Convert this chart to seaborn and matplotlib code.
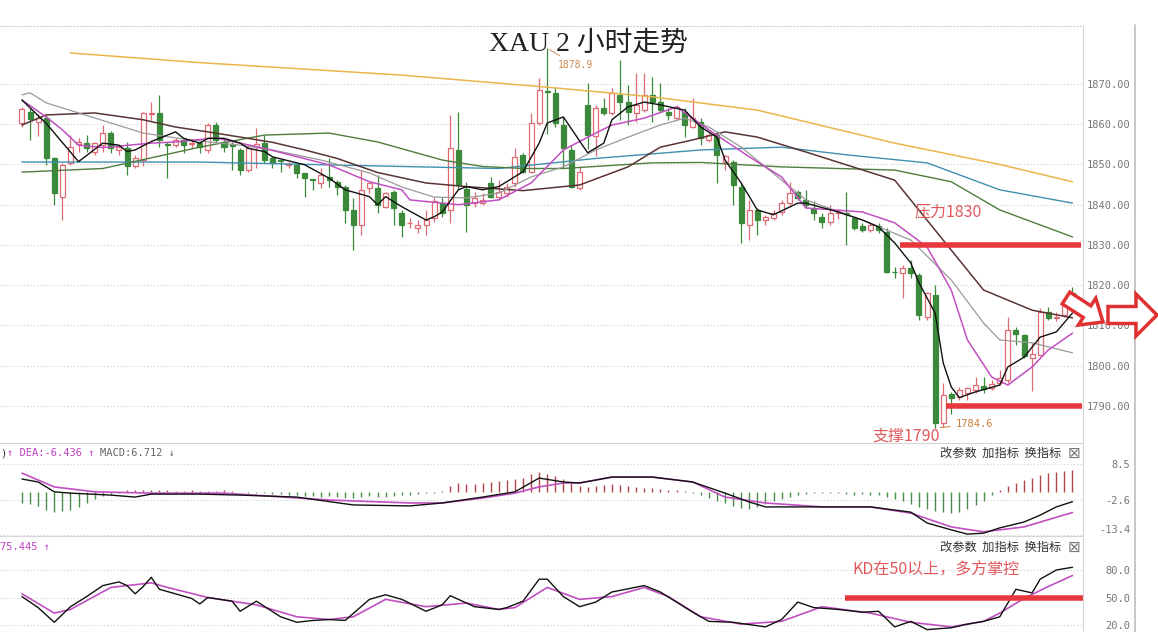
import numpy as np
import matplotlib
matplotlib.use("Agg")
import matplotlib.pyplot as plt
import seaborn as sns
from matplotlib.patches import FancyArrow
from matplotlib.lines import Line2D
from matplotlib.transforms import IdentityTransform

sns.set_style("white")
plt.rcParams["font.family"] = ["Noto Sans CJK SC", "DejaVu Sans"]

# ---------------- candles (2h bars, index 0..130) ----------------
opens = [1860.4, 1863.1, 1860.5, 1861.5, 1851.5, 1842.0, 1850.3, 1855.0, 1855.4, 1853.2,
         1854.9, 1857.7, 1853.6, 1854.0, 1849.5, 1851.1, 1862.5, 1862.7, 1855.0, 1854.9,
         1856.1, 1855.0, 1855.3, 1853.6, 1859.8, 1855.7, 1855.0, 1853.6, 1848.6, 1854.4,
         1855.3, 1851.5, 1851.0, 1849.9, 1849.9, 1847.8, 1846.3, 1845.3, 1847.0, 1845.7,
         1844.5, 1838.7, 1835.0, 1844.1, 1844.1, 1839.5, 1843.2, 1837.9, 1835.4, 1834.1,
         1835.0, 1836.6, 1840.4, 1838.7, 1853.6, 1844.0, 1840.4, 1840.4, 1845.3, 1842.0,
         1843.0, 1845.3, 1852.3, 1848.2, 1860.2, 1868.3, 1867.7, 1859.8, 1853.6, 1844.1,
         1864.8, 1857.0, 1864.0, 1862.7, 1867.3, 1865.6, 1862.7, 1863.5, 1867.3, 1865.6,
         1863.1, 1861.5, 1863.1, 1859.4, 1860.6, 1856.1, 1857.3, 1850.7, 1850.7, 1844.5,
         1835.0, 1838.7, 1836.2, 1836.6, 1838.3, 1840.4, 1843.2, 1841.2, 1838.9, 1837.0,
         1835.8, 1837.9, 1838.0, 1836.6, 1834.7, 1833.7, 1834.7, 1833.3, 1823.4, 1823.0,
         1824.2, 1822.5, 1812.2, 1817.6, 1785.7, 1793.0, 1792.3, 1793.2, 1794.0, 1795.0,
         1794.4, 1795.6, 1796.5, 1808.9, 1807.6, 1801.8, 1802.7, 1813.4, 1811.8, 1812.6,
         1818.0]
highs = [1864.4, 1864.0, 1862.5, 1862.3, 1851.9, 1850.3, 1857.3, 1856.5, 1857.3, 1855.7,
         1859.8, 1858.2, 1854.8, 1855.7, 1852.4, 1863.1, 1865.4, 1867.3, 1855.5, 1856.5,
         1856.5, 1856.0, 1855.7, 1860.2, 1860.6, 1856.5, 1855.7, 1854.0, 1854.8, 1859.0,
         1857.3, 1852.0, 1851.2, 1850.5, 1850.3, 1848.0, 1846.5, 1849.0, 1851.5, 1846.1,
         1844.9, 1841.6, 1848.6, 1845.7, 1847.4, 1843.2, 1843.7, 1838.7, 1836.6, 1836.2,
         1838.7, 1842.0, 1842.0, 1862.3, 1863.1, 1845.7, 1843.2, 1842.8, 1847.0, 1846.1,
         1845.3, 1854.0, 1852.8, 1862.7, 1871.5, 1878.9, 1869.3, 1861.9, 1854.8, 1849.5,
         1870.2, 1864.8, 1866.5, 1868.9, 1876.0, 1869.8, 1872.7, 1872.7, 1871.8, 1870.2,
         1864.0, 1864.8, 1864.0, 1866.5, 1861.5, 1857.7, 1858.2, 1852.3, 1851.1, 1845.3,
         1841.2, 1839.1, 1837.5, 1838.7, 1841.2, 1845.7, 1843.7, 1843.7, 1840.8, 1837.9,
         1840.0, 1839.0, 1843.2, 1837.0, 1835.4, 1835.4, 1835.4, 1834.1, 1824.6, 1825.0,
         1826.3, 1823.0, 1818.4, 1820.1, 1795.6, 1793.5, 1794.8, 1794.8, 1797.3, 1797.3,
         1796.5, 1798.9, 1812.2, 1809.7, 1808.0, 1805.6, 1814.3, 1814.7, 1813.4, 1815.5,
         1819.6]
lows = [1859.4, 1856.1, 1857.0, 1849.9, 1839.9, 1836.2, 1849.9, 1853.2, 1853.2, 1852.4,
        1853.2, 1852.8, 1852.4, 1847.4, 1849.0, 1849.5, 1861.0, 1854.4, 1846.6, 1854.4,
        1852.8, 1854.0, 1852.8, 1852.8, 1855.7, 1853.2, 1848.6, 1847.4, 1848.2, 1849.0,
        1850.3, 1849.0, 1848.2, 1849.0, 1846.6, 1842.0, 1843.7, 1844.1, 1844.5, 1842.4,
        1835.4, 1828.8, 1832.5, 1842.8, 1837.9, 1839.1, 1835.0, 1832.1, 1834.1, 1832.9,
        1832.5, 1835.8, 1837.0, 1835.4, 1843.7, 1833.3, 1839.5, 1840.0, 1841.6, 1841.2,
        1842.0, 1844.5, 1847.8, 1847.8, 1859.8, 1857.5, 1859.4, 1849.0, 1844.1, 1843.7,
        1853.8, 1852.0, 1862.3, 1862.3, 1861.0, 1859.8, 1860.6, 1863.1, 1860.6, 1863.1,
        1861.0, 1861.0, 1856.9, 1859.0, 1854.8, 1855.7, 1845.3, 1848.6, 1839.9, 1830.4,
        1831.2, 1832.5, 1835.0, 1836.2, 1837.5, 1840.0, 1841.2, 1839.1, 1836.2, 1834.1,
        1835.0, 1836.5, 1830.0, 1833.7, 1833.3, 1833.3, 1832.9, 1823.0, 1821.7, 1816.8,
        1821.7, 1811.4, 1811.4, 1784.6, 1784.8, 1788.0, 1791.5, 1791.5, 1793.2, 1793.2,
        1794.0, 1795.2, 1795.6, 1805.2, 1801.8, 1793.6, 1802.3, 1811.4, 1811.0, 1812.2,
        1814.7]
closes = [1863.7, 1861.2, 1861.5, 1851.5, 1842.8, 1849.9, 1854.4, 1855.7, 1854.0, 1855.3,
          1857.7, 1854.0, 1854.4, 1849.5, 1851.5, 1862.7, 1862.8, 1856.1, 1854.8, 1856.1,
          1854.9, 1855.3, 1854.4, 1859.8, 1856.1, 1854.4, 1854.5, 1848.6, 1854.0, 1855.2,
          1851.1, 1850.3, 1850.8, 1850.0, 1847.8, 1846.6, 1846.1, 1847.4, 1846.1, 1844.5,
          1838.7, 1835.0, 1843.7, 1845.3, 1839.9, 1842.8, 1839.1, 1835.0, 1835.5, 1835.0,
          1836.2, 1840.8, 1837.9, 1854.0, 1844.9, 1840.0, 1841.6, 1841.2, 1842.0, 1843.2,
          1844.5, 1851.9, 1848.2, 1860.2, 1868.5, 1868.0, 1860.2, 1854.0, 1844.5, 1848.2,
          1857.2, 1864.0, 1862.7, 1867.7, 1865.6, 1863.1, 1864.8, 1867.3, 1865.6, 1863.5,
          1862.3, 1864.4, 1859.8, 1861.5, 1856.5, 1857.3, 1852.3, 1852.0, 1844.9, 1835.4,
          1838.7, 1836.2, 1836.9, 1837.9, 1840.4, 1842.8, 1841.6, 1839.9, 1837.9, 1835.8,
          1837.9, 1838.2, 1837.6, 1834.1, 1833.7, 1835.0, 1833.7, 1823.4, 1823.3, 1824.2,
          1823.0, 1812.6, 1818.0, 1785.7, 1792.7, 1792.0, 1794.0, 1794.4, 1795.2, 1794.2,
          1795.5, 1796.9, 1808.9, 1808.0, 1802.3, 1803.0, 1813.4, 1811.8, 1812.2, 1815.1,
          1815.5]

# ---------------- moving averages, read at sample bars ----------------
ma5_idx = [0, 3, 7, 10, 12, 13, 14, 16, 19, 20, 22, 23, 25, 27, 28, 30, 31, 35, 38, 40,
           43, 44, 45, 47, 50, 51, 52, 54, 55, 57, 59, 62, 64, 65, 67, 70, 72, 73, 75, 77,
           79, 82, 84, 86, 87, 89, 91, 93, 96, 97, 101, 104, 106, 108, 110, 111, 113, 114, 115, 116,
           118, 121, 122, 124, 126, 128, 130]
ma5 = [1866.0, 1860.2, 1850.7, 1855.3, 1854.8, 1853.2, 1853.6, 1855.7, 1858.1, 1856.5,
       1855.3, 1856.5, 1856.5, 1855.3, 1854.0, 1853.2, 1851.9, 1849.9, 1846.6, 1843.7,
       1842.0, 1840.0, 1842.0, 1839.5, 1836.2, 1837.0, 1838.2, 1843.7, 1844.5, 1843.7,
       1844.5, 1848.2, 1855.3, 1860.3, 1861.8, 1852.9, 1855.3, 1861.1, 1864.3, 1865.5,
       1864.8, 1863.5, 1859.3, 1856.8, 1851.1, 1845.4, 1838.7, 1837.5, 1840.4, 1840.4,
       1838.2, 1836.2, 1834.5, 1830.5, 1825.5, 1820.6, 1813.1, 1800.7, 1794.7, 1792.1,
       1793.5, 1795.2, 1799.7, 1802.1, 1807.1, 1808.4, 1813.1]

ma10_idx = [0, 3, 5, 7, 10, 16, 19, 24, 30, 38, 43, 47, 48, 54, 59, 63, 67, 71, 73, 77,
            81, 85, 90, 94, 97, 104, 108, 112, 115, 117, 120, 122, 125, 127, 130]
ma10 = [1866.0, 1861.8, 1858.6, 1854.8, 1854.2, 1855.3, 1855.6, 1856.6, 1854.0, 1849.9,
        1845.7, 1843.7, 1841.2, 1840.0, 1841.2, 1845.4, 1853.6, 1857.8, 1859.8, 1861.5,
        1864.3, 1858.6, 1851.9, 1846.9, 1839.2, 1838.2, 1835.5, 1829.5, 1818.8, 1806.4,
        1797.2, 1795.2, 1799.7, 1803.9, 1808.1]

ma20_idx = [0, 1, 3, 7, 11, 15, 19, 23, 27, 31, 37, 43, 47, 51, 55, 59, 63, 67, 71, 75,
            79, 82, 85, 89, 94, 97, 104, 110, 115, 119, 121, 125, 130]
ma20 = [1867.3, 1867.8, 1865.3, 1862.8, 1860.3, 1857.8, 1856.6, 1855.6, 1854.8, 1853.6,
        1851.1, 1847.9, 1844.4, 1841.9, 1841.7, 1842.9, 1846.9, 1849.4, 1853.6, 1856.8,
        1859.8, 1861.5, 1859.3, 1854.3, 1846.1, 1841.2, 1836.2, 1831.2, 1821.3, 1810.6,
        1806.4, 1805.7, 1803.2]

ma30_idx = [0, 3, 9, 15, 19, 23, 27, 31, 35, 39, 44, 50, 55, 62, 69, 75, 79, 83, 87, 91,
            97, 108, 114, 119, 125, 130]
ma30 = [1859.8, 1862.3, 1862.8, 1861.1, 1859.3, 1858.1, 1856.8, 1855.5, 1853.6, 1851.5,
        1848.0, 1845.4, 1844.5, 1843.5, 1844.9, 1849.4, 1854.3, 1856.1, 1858.1, 1856.8,
        1853.1, 1846.1, 1831.2, 1818.8, 1813.8, 1811.9]

ma60_idx = [0, 10, 22, 30, 38, 44, 52, 57, 62, 67, 78, 84, 94, 108, 115, 121, 130]
ma60 = [1848.1, 1849.0, 1854.3, 1857.3, 1857.8, 1855.6, 1851.1, 1849.5, 1849.0, 1849.0,
        1850.4, 1850.5, 1849.4, 1848.6, 1845.7, 1838.7, 1832.0]

ma120_idx = [0, 22, 47, 59, 71, 84, 94, 102, 112, 121, 130]
ma120 = [1850.6, 1850.6, 1849.5, 1849.0, 1851.5, 1853.6, 1854.3, 1852.4, 1850.4, 1843.7, 1840.4]

ma250_idx = [6, 22, 47, 65, 78, 91, 97, 108, 121, 130]
ma250 = [1877.7, 1875.3, 1872.2, 1869.2, 1866.8, 1863.5, 1860.6, 1855.3, 1850.0, 1845.7]

price_ticks = [1790, 1800, 1810, 1820, 1830, 1840, 1850, 1860, 1870]

# ---------------- MACD ----------------
dif_idx = [0, 2, 4, 6, 11, 14, 16, 22, 27, 34, 41, 48, 52, 57, 61, 64, 67, 69, 73, 78,
           83, 87, 90, 92, 96, 105, 110, 112, 115, 117, 119, 121, 124, 126, 128, 130]
dif = [3.8, 2.9, -0.1, -0.5, -1.1, -1.7, -0.8, -0.8, -1.1, -1.7, -4.1, -4.4, -3.5, -1.7,
       -0.1, 4.1, 2.9, 2.6, 4.4, 4.4, 2.9, -0.5, -3.2, -4.7, -4.7, -4.7, -6.3, -9.6, -11.7,
       -13.0, -12.7, -11.1, -9.3, -7.2, -4.7, -3.1]
dea_idx = [0, 4, 9, 16, 25, 38, 48, 52, 57, 61, 64, 67, 69, 73, 78, 83, 87, 92, 99, 105,
           110, 115, 119, 121, 124, 130]
dea = [5.6, 1.4, -0.1, -0.5, -0.5, -2.6, -3.5, -3.5, -2.0, -0.5, 1.4, 2.6, 2.6, 4.4, 4.4,
       2.9, -1.7, -3.5, -4.7, -4.7, -6.6, -10.8, -12.3, -11.7, -10.8, -6.4]
macd_hist = [-3.4, -3.8, -4.5, -5.6, -6.2, -6.0, -5.5, -4.6, -3.6, -2.4,
             -1.4, -0.9, -0.6, 0.4, 0.6, 0.5, 0.6, 0.5, 0.4, 0.3,
             0.3, 0.4, 0.2, 0.2, 0.3, 0.4, 0.2, -0.3, -0.4, -0.5,
             -0.6, -0.7, -0.8, -1.0, -1.2, -1.4, -1.5, -1.6, -1.5, -1.7,
             -1.9, -2.0, -1.6, -1.5, -1.7, -1.6, -1.4, -1.2, -1.0, -0.8,
             -0.6, -0.4, 0.2, 1.6, 2.6, 2.2, 2.4, 2.6, 3.0, 3.2,
             3.4, 3.8, 4.2, 5.2, 5.8, 5.4, 4.6, 3.8, 2.8, 1.8,
             1.4, 1.8, 2.0, 2.2, 2.0, 1.6, 1.4, 1.2, 1.0, 0.8,
             0.6, 0.4, 0.2, -0.4, -1.2, -2.0, -2.8, -3.6, -4.4, -5.0,
             -5.2, -4.6, -3.8, -3.0, -2.4, -1.8, -1.2, -0.8, -0.6, -0.4,
             -0.5, -0.6, -0.8, -1.0, -0.8, -1.0, -1.2, -1.6, -2.2, -3.0,
             -3.8, -4.6, -5.4, -6.0, -6.4, -6.6, -6.2, -5.4, -4.2, -2.8,
             -1.2, 0.4, 1.6, 2.6, 3.4, 4.2, 5.0, 5.6, 6.0, 6.4,
             6.7]
macd_ticks = [8.5, -2.6, -13.4]

# ---------------- KD ----------------
k_idx = [0, 2, 4, 6, 8, 10, 12, 13, 14, 15, 16, 17, 21, 22, 23, 26, 27, 29, 32, 34,
         36, 38, 40, 43, 45, 47, 50, 52, 53, 56, 59, 60, 62, 64, 65, 67, 69, 71, 73, 77,
         79, 83, 85, 88, 92, 94, 96, 98, 101, 104, 106, 108, 110, 112, 115, 117, 119, 121, 123, 125,
         126, 128, 130]
k_vals = [51, 39, 23, 40, 51, 63, 67, 63, 54, 62, 72, 59, 49, 43, 50, 46, 35, 46, 29, 23,
          25, 26, 25, 48, 53, 48, 35, 42, 52, 40, 37, 39, 46, 70, 70, 51, 40, 45, 56, 63,
          56, 34, 24, 23, 18, 26, 45, 39, 37, 34, 35, 18, 24, 15, 17, 21, 24, 29, 59, 55,
          70, 80, 83]
d_idx = [0, 4, 6, 11, 16, 18, 23, 29, 34, 38, 41, 45, 50, 55, 59, 61, 65, 69, 73, 77,
         80, 84, 89, 94, 99, 105, 110, 115, 119, 121, 124, 127, 130]
d_vals = [54, 33, 37, 61, 66, 61, 50, 42, 29, 26, 29, 48, 40, 44, 37, 39, 61, 48, 51, 61,
          51, 29, 21, 24, 40, 33, 23, 18, 24, 33, 49, 62, 74]
kd_ticks = [80, 50, 20]

# ---------------- figure ----------------
W, H = 1158, 632
fig = plt.figure(figsize=(W / 100, H / 100), dpi=100)
fig.patch.set_facecolor("white")


def box(x0, y0, x1, y1):
    return [x0 / W, 1 - y1 / H, (x1 - x0) / W, (y1 - y0) / H]


ax = fig.add_axes(box(0, 26, 1083, 443))
ax_m = fig.add_axes(box(0, 445, 1083, 536))
ax_k = fig.add_axes(box(0, 538, 1083, 632))

XLIM = (-2.72, 131.3)
grid_c = "#cfcfcf"
lab_c = "#777777"

for a in (ax, ax_m, ax_k):
    a.set_xlim(*XLIM)
    a.set_xticks([])
    a.set_facecolor("white")
    a.spines["left"].set_visible(False)
    a.spines["right"].set_color("#d5d5d5")
    a.spines["bottom"].set_color("#d5d5d5")
    a.spines["top"].set_visible(False)
    a.yaxis.tick_right()
    a.tick_params(axis="y", length=0, pad=34, labelsize=7.5, labelcolor=lab_c)
    a.grid(axis="y", linestyle=(0, (1, 2)), color=grid_c, linewidth=0.8)

ax.spines["top"].set_visible(True)
ax.spines["top"].set_linestyle((0, (1, 2)))
ax.spines["top"].set_color(grid_c)

# ---- candles
idx = np.arange(len(opens))
o = np.array(opens)
c = np.array(closes)
up = c >= o
up_c, dn_c = "#e06a74", "#3b8a3b"
ax.vlines(idx[up], np.array(lows)[up], np.array(highs)[up], color=up_c, lw=0.9, zorder=2)
ax.vlines(idx[~up], np.array(lows)[~up], np.array(highs)[~up], color=dn_c, lw=0.9, zorder=2)
ax.bar(idx[up], c[up] - o[up], bottom=o[up], width=0.62, facecolor="white",
       edgecolor=up_c, linewidth=0.9, zorder=3)
ax.bar(idx[~up], o[~up] - c[~up], bottom=c[~up], width=0.62, facecolor=dn_c,
       edgecolor=dn_c, linewidth=0.9, zorder=3)

# ---- moving averages
ma_sets = [
    (ma250_idx, ma250, "#eab54a", 1.1),
    (ma120_idx, ma120, "#3f8fb0", 1.0),
    (ma60_idx, ma60, "#4e7d3e", 1.0),
    (ma30_idx, ma30, "#5a3434", 1.1),
    (ma20_idx, ma20, "#9a9a9a", 0.9),
    (ma10_idx, ma10, "#c24fc2", 1.1),
    (ma5_idx, ma5, "#111111", 1.0),
]
for xi, yv, col, lw in ma_sets:
    sns.lineplot(x=xi, y=yv, ax=ax, color=col, linewidth=lw, zorder=4, legend=False)

ax.set_ylim(1780.8, 1884.4)
ax.set_yticks(price_ticks)
ax.set_yticklabels([f"{v:.2f}" for v in price_ticks], family="DejaVu Sans Mono")
ax.set_xlabel("")
ax.set_ylabel("")

# support / resistance marks
red = "#e8383e"
ax.hlines(1830, 108.7, 131.1, color=red, lw=4, zorder=6)
ax.hlines(1790, 114.4, 131.2, color=red, lw=4, zorder=6)
ax.text(110.5, 1838.2, "压力1830", color="#e0585c", fontsize=11.5, va="center", zorder=7)
ax.text(105.3, 1782.6, "支撑1790", color="#e0585c", fontsize=11.5, va="center", zorder=7)
ax.annotate("1784.6", xy=(113.3, 1784.6), xytext=(115.6, 1785.4), fontsize=7.5,
            color="#c8803a", va="center", family="DejaVu Sans Mono",
            arrowprops=dict(arrowstyle="-", color="#c8803a", lw=0.7))
ax.annotate("1878.9", xy=(65, 1878.9), xytext=(66.3, 1874.6), fontsize=7,
            color="#d08a50", va="center", family="DejaVu Sans Mono",
            arrowprops=dict(arrowstyle="-", color="#d08a50", lw=0.7))

# ---- MACD panel
hist = np.array(macd_hist)
ax_m.vlines(idx[hist > 0], 0, hist[hist > 0], color="#b0464a", lw=1.0)
ax_m.vlines(idx[hist <= 0], 0, hist[hist <= 0], color="#4c8a4c", lw=1.0)
sns.lineplot(x=dea_idx, y=dea, ax=ax_m, color="#c24fc2", linewidth=1.2, legend=False)
sns.lineplot(x=dif_idx, y=dif, ax=ax_m, color="#111111", linewidth=1.0, legend=False)
ax_m.set_ylim(-13.57, 14.18)
ax_m.set_yticks(macd_ticks)
ax_m.set_yticklabels(["8.5", "-2.6", "-13.4"], family="DejaVu Sans Mono")
ax_m.get_yticklabels()[2].set_va("bottom")
ax_m.set_xlabel("")
ax_m.set_ylabel("")

# ---- KD panel
sns.lineplot(x=d_idx, y=d_vals, ax=ax_k, color="#c24fc2", linewidth=1.2, legend=False)
sns.lineplot(x=k_idx, y=k_vals, ax=ax_k, color="#111111", linewidth=1.0, legend=False)
ax_k.set_ylim(12.4, 114.9)
ax_k.set_yticks(kd_ticks)
ax_k.set_yticklabels(["80.0", "50.0", "20.0"], family="DejaVu Sans Mono")
ax_k.hlines(50, 101.9, 131.3, color=red, lw=4, zorder=6)
ax_k.text(102.7, 80.5, "KD在50以上，多方掌控", color="#e0585c", fontsize=11.5,
          va="center", zorder=7)
ax_k.set_xlabel("")
ax_k.set_ylabel("")

for a in (ax, ax_m, ax_k):
    for lbl in a.get_yticklabels():
        lbl.set_horizontalalignment("right")

# ---- headers and panel buttons
def fx(x):
    return x / W


def fy(y):
    return 1 - y / H


fig.text(fx(0), fy(453), ")", fontsize=7.5, color="#333333", va="center",
         family="DejaVu Sans Mono")
fig.text(fx(7), fy(453), "↑ DEA:-6.436 ↑", fontsize=7.5, color="#c040c0", va="center",
         family="DejaVu Sans Mono")
fig.text(fx(100), fy(453), "MACD:6.712 ↓", fontsize=7.5, color="#666666", va="center",
         family="DejaVu Sans Mono")
fig.text(fx(0), fy(547), "75.445 ↑", fontsize=7.5, color="#c040c0", va="center",
         family="DejaVu Sans Mono")
for yy in (453, 547):
    fig.text(fx(940), fy(yy), "改参数  加指标  换指标", fontsize=8.8, color="#333333",
             va="center")
    fig.text(fx(1068), fy(yy), "⊠", fontsize=11, color="#777777", va="center",
             family=["DejaVu Sans"])

# title
fig.text(fx(588), fy(44), "XAU 2 小时走势", fontsize=20, color="#222222",
         ha="center", va="center", fontweight="light",
         family=["Liberation Serif", "Noto Sans CJK SC"])

# right frame line
fig.add_artist(Line2D([fx(1135), fx(1135)], [fy(25), fy(632)], color="#bdbdbd", lw=1.2))

# hollow red arrows at the right
arrow_kw = dict(facecolor="white", edgecolor="#e03232", linewidth=2.5,
                length_includes_head=True, transform=IdentityTransform(), zorder=10)
fig.add_artist(FancyArrow(1066, H - 298, 37, -24, width=14, head_width=32,
                          head_length=19, **arrow_kw))
fig.add_artist(FancyArrow(1108, H - 315, 49, 0, width=17, head_width=42,
                          head_length=21, **arrow_kw))

fig.savefig("out.png", dpi=100)
